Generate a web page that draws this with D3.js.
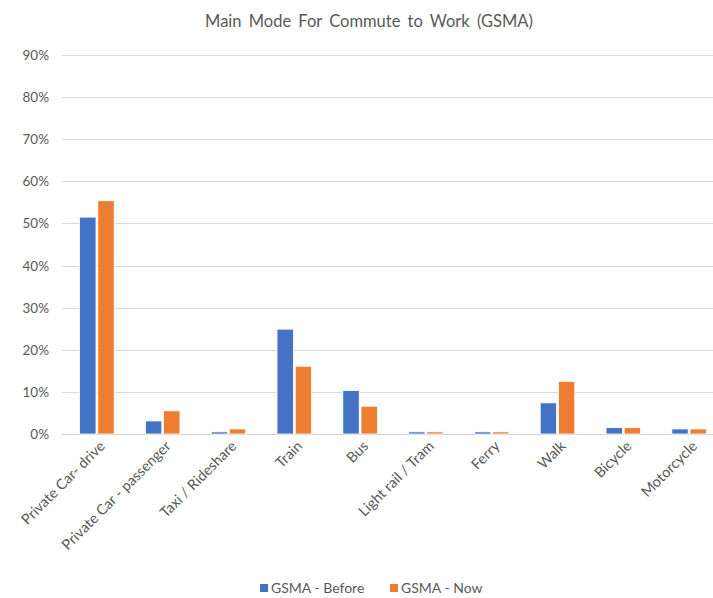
<!DOCTYPE html>
<html>
<head>
<meta charset="utf-8">
<script src="https://cdn.jsdelivr.net/npm/d3@7"></script>
<style>
  body { margin: 0; background: #fff; }
  svg { font-family: Lato, "Open Sans", sans-serif; }
</style>
</head>
<body>
<div class="chart"></div>
<script>
const categories = ['Private Car- drive', 'Private Car - passenger', 'Taxi / Rideshare', 'Train', 'Bus',
  'Light rail / Tram', 'Ferry', 'Walk', 'Bicycle', 'Motorcycle'];
const seriesNames = ['GSMA - Before', 'GSMA - Now'];
const before = [51.5, 3.1, 0.5, 24.9, 10.3, 0.5, 0.5, 7.4, 1.5, 1.2];
const now = [55.4, 5.5, 1.2, 16.1, 6.6, 0.5, 0.5, 12.5, 1.5, 1.2];
const yTicks = [0, 10, 20, 30, 40, 50, 60, 70, 80, 90];

const dims = { width: 713, height: 598 };
const margin = { top: 55, left: 64, right: -9, bottom: 164 };
const colors = ['#4472C4', '#ED7D31'];

const svg = d3.select('.chart')
  .append('svg')
  .attr('width', dims.width)
  .attr('height', dims.height);

const x = d3.scaleBand()
  .domain(categories)
  .range([margin.left, dims.width - margin.right])
  .paddingInner(0.42)
  .paddingOuter(0.21);

const xSub = d3.scaleBand()
  .domain(seriesNames)
  .range([0, x.bandwidth()])
  .padding(0.1);

const y = d3.scaleLinear()
  .domain([0, 90])
  .range([dims.height - margin.bottom, margin.top]);

// title
svg.append('text')
  .attr('x', 369)
  .attr('y', 27)
  .attr('text-anchor', 'middle')
  .attr('fill', '#595959')
  .attr('font-size', 16.5)
  .attr('word-spacing', 3)
  .text('Main Mode For Commute to Work (GSMA)');

// gridlines + y labels
const yAxis = svg.append('g');
yAxis.selectAll('line')
  .data(yTicks)
  .enter()
  .append('line')
  .attr('x1', margin.left - 2)
  .attr('x2', dims.width)
  .attr('y1', d => Math.round(y(d)) + 0.5)
  .attr('y2', d => Math.round(y(d)) + 0.5)
  .attr('stroke', d => d === 0 ? '#d0d0d0' : '#dadada')
  .attr('stroke-width', 1);

yAxis.selectAll('text')
  .data(yTicks)
  .enter()
  .append('text')
  .attr('x', 49)
  .attr('y', d => y(d) + 5)
  .attr('text-anchor', 'end')
  .attr('fill', '#595959')
  .attr('font-size', 13.5)
  .text(d => d + '%');

// bars
const data = categories.map((c, i) => ({ name: c, values: [before[i], now[i]] }));
const groups = svg.selectAll('g.group')
  .data(data)
  .enter()
  .append('g')
  .attr('class', 'group')
  .attr('transform', d => `translate(${x(d.name)}, 0)`);

groups.selectAll('rect')
  .data(d => d.values.map((v, j) => ({ key: seriesNames[j], value: v, j })))
  .enter()
  .append('rect')
  .attr('x', d => xSub(d.key))
  .attr('width', xSub.bandwidth())
  .attr('y', d => y(d.value))
  .attr('height', d => y(0) - y(d.value))
  .attr('fill', d => colors[d.j])
  .attr('stroke', '#fff')
  .attr('stroke-width', 0.8);

// x labels, rotated
svg.append('g')
  .selectAll('text')
  .data(categories)
  .enter()
  .append('text')
  .attr('transform', d => `translate(${x(d) + x.bandwidth() / 2 + 9}, 447) rotate(-45)`)
  .attr('text-anchor', 'end')
  .attr('fill', '#595959')
  .attr('font-size', 14.5)
  .text(d => d);

// legend
const legend = svg.append('g')
  .attr('transform', 'translate(260, 593)');
const legendX = [0, 130];
seriesNames.forEach((s, i) => {
  legend.append('rect')
    .attr('x', legendX[i])
    .attr('y', -9)
    .attr('width', 8)
    .attr('height', 8)
    .attr('fill', colors[i]);
  legend.append('text')
    .attr('x', legendX[i] + 11)
    .attr('y', 0)
    .attr('fill', '#595959')
    .attr('font-size', 14)
    .text(s);
});
</script>
</body>
</html>
